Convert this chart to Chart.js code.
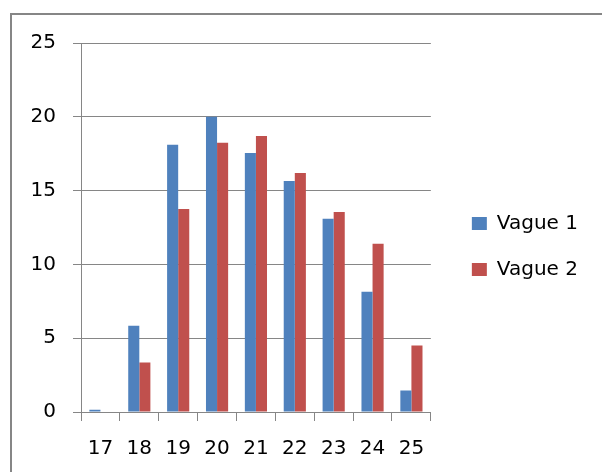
<!DOCTYPE html>
<html>
<head>
<meta charset="utf-8">
<script src="https://cdn.jsdelivr.net/npm/chart.js"></script>
<style>
    html, body { margin: 0; padding: 0; background: #fff; }
    #cadre {
        position: absolute; left: 10px; top: 13px; width: 620px; height: 480px;
        border-left: 2px solid #868686; border-top: 2px solid #868686;
    }
    #zone { position: absolute; left: 0; top: 0; width: 602px; height: 472px; }
</style>
</head>
<body>
<div id="cadre"></div>
<div id="zone"><canvas id="graphique" width="602" height="472"></canvas></div>
<script>
const ages = ['17', '18', '19', '20', '21', '22', '23', '24', '25'];
const vague1 = [0.15, 5.85, 18.1, 20.0, 17.55, 15.65, 13.1, 8.15, 1.45];
const vague2 = [0, 3.35, 13.75, 18.25, 18.7, 16.2, 13.55, 11.4, 4.5];
const nomsSeries = ['Vague 1', 'Vague 2'];
const couleurs = ['#4F81BD', '#C0504D'];

const police = { family: 'DejaVu Sans', size: 20 };
const gris = '#868686';

// décale la légende comme dans l'original
const decalerLegende = {
    id: 'decalerLegende',
    afterLayout(chart) {
        const leg = chart.legend;
        leg.left += 15;
        leg.right += 15;
        leg.top -= 6;
        leg.bottom -= 6;
    }
};

const ctx = document.getElementById('graphique').getContext('2d');
new Chart(ctx, {
    type: 'bar',
    data: {
        labels: ages,
        datasets: [
            { label: nomsSeries[0], data: vague1, backgroundColor: couleurs[0] },
            { label: nomsSeries[1], data: vague2, backgroundColor: couleurs[1] }
        ]
    },
    options: {
        responsive: false,
        animation: false,
        layout: { padding: { top: 43, bottom: 10, left: 0, right: 29 } },
        datasets: {
            bar: { categoryPercentage: 0.57, barPercentage: 1.0 }
        },
        plugins: {
            legend: {
                position: 'right',
                labels: {
                    font: police,
                    color: '#000',
                    boxWidth: 15,
                    boxHeight: 13,
                    padding: 26
                }
            },
            tooltip: { enabled: false }
        },
        scales: {
            x: {
                grid: {
                    offset: true,
                    drawOnChartArea: false,
                    drawTicks: true,
                    tickLength: 9,
                    color: gris
                },
                border: { color: gris },
                ticks: { font: police, color: '#000', padding: 16 },
                afterFit(scale) { scale.height = 50; }
            },
            y: {
                min: 0,
                max: 25,
                ticks: { stepSize: 5, font: police, color: '#000', padding: 17 },
                grid: { color: gris, tickLength: 8 },
                border: { color: gris },
                afterFit(scale) { scale.width = 81; }
            }
        }
    },
    plugins: [decalerLegende]
});
</script>
</body>
</html>
